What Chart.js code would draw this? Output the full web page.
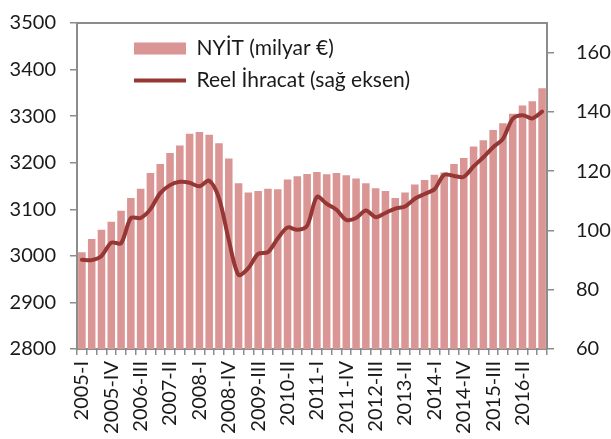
<!DOCTYPE html>
<html>
<head>
<meta charset="utf-8">
<script src="https://cdn.jsdelivr.net/npm/chart.js@4/dist/chart.umd.min.js"></script>
<style>
    body { margin: 0; background: #fff; }
    canvas { display: block; }
</style>
</head>
<body>
<canvas id="chart" width="611" height="439"></canvas>
<script>
// Data
const quarters = [
    '2005-I', '2005-II', '2005-III', '2005-IV',
    '2006-I', '2006-II', '2006-III', '2006-IV',
    '2007-I', '2007-II', '2007-III', '2007-IV',
    '2008-I', '2008-II', '2008-III', '2008-IV',
    '2009-I', '2009-II', '2009-III', '2009-IV',
    '2010-I', '2010-II', '2010-III', '2010-IV',
    '2011-I', '2011-II', '2011-III', '2011-IV',
    '2012-I', '2012-II', '2012-III', '2012-IV',
    '2013-I', '2013-II', '2013-III', '2013-IV',
    '2014-I', '2014-II', '2014-III', '2014-IV',
    '2015-I', '2015-II', '2015-III', '2015-IV',
    '2016-I', '2016-II', '2016-III', '2016-IV'
];

// NYİT, milyar € (left axis)
const nyit = [
    3008, 3036, 3056, 3073, 3097, 3124, 3144, 3178, 3197, 3221,
    3237, 3262, 3266, 3260, 3242, 3209, 3156, 3136, 3139, 3144,
    3143, 3164, 3171, 3176, 3180, 3175, 3178, 3173, 3166, 3156,
    3145, 3139, 3124, 3136, 3153, 3163, 3174, 3179, 3197, 3210,
    3235, 3248, 3270, 3285, 3305, 3323, 3332, 3360
];

// Reel ihracat (right axis)
const reelIhracat = [
    90.1, 90.0, 91.4, 95.9, 95.7, 104.2, 104.2, 107.2, 112.6, 115.3,
    116.4, 116.1, 114.9, 116.8, 110.9, 96.8, 85.0, 87.3, 92.1, 92.7,
    97.3, 101.0, 100.2, 101.6, 111.3, 109.0, 107.0, 103.6, 104.2, 106.7,
    104.5, 105.9, 107.4, 108.1, 110.7, 112.3, 113.9, 118.8, 118.4, 118.1,
    121.6, 124.7, 128.1, 130.9, 137.7, 138.9, 137.8, 140.1
];

const leftTicks = [2800, 2900, 3000, 3100, 3200, 3300, 3400, 3500];
const rightTicks = [60, 80, 100, 120, 140, 160];

// Styling
const axisGrey = '#8c8c8c';
const textColor = '#1a1a1a';
const baseFont = { family: 'Lato', size: 20 };

Chart.defaults.font.family = 'Lato';
Chart.defaults.color = textColor;

// move the legend box right and down inside the plot
const legendShift = {
    id: 'legendShift',
    afterLayout(chart) {
        chart.legend.left += 46;
        chart.legend.right += 46;
        chart.legend.top += 27;
        chart.legend.bottom += 27;
    }
};

new Chart(document.getElementById('chart'), {
    type: 'bar',
    data: {
        labels: quarters,
        datasets: [
            {
                label: 'NYİT (milyar €)',
                data: nyit,
                yAxisID: 'y',
                backgroundColor: '#d99694',
                borderWidth: 0,
                barPercentage: 0.77,
                categoryPercentage: 1,
                pointStyle: 'rect',
                order: 2
            },
            {
                type: 'line',
                label: 'Reel İhracat (sağ eksen)',
                data: reelIhracat,
                yAxisID: 'y1',
                borderColor: '#953735',
                backgroundColor: '#953735',
                borderWidth: 4,
                borderCapStyle: 'round',
                borderJoinStyle: 'round',
                tension: 0.3,
                pointRadius: 0,
                pointStyle: 'line',
                order: 1
            }
        ]
    },
    options: {
        responsive: false,
        animation: false,
        layout: { padding: { top: 23, left: 0, right: 0, bottom: 0 } },
        plugins: {
            tooltip: { enabled: false },
            legend: {
                position: 'chartArea',
                align: 'start',
                labels: {
                    usePointStyle: true,
                    pointStyleWidth: 52,
                    boxHeight: 12,
                    padding: 11,
                    color: textColor,
                    font: { family: 'Lato', size: 21 },
                    sort: (a, b) => a.datasetIndex - b.datasetIndex
                }
            }
        },
        scales: {
            x: {
                position: 'bottom',
                grid: {
                    drawOnChartArea: false,
                    color: axisGrey,
                    lineWidth: 1.5,
                    tickLength: 6
                },
                border: { color: axisGrey, width: 2 },
                ticks: {
                    autoSkip: false,
                    minRotation: 90,
                    maxRotation: 90,
                    padding: 6,
                    color: textColor,
                    font: { family: 'Lato', size: 20 },
                    callback: (value, index) => index % 3 === 0 ? quarters[index] : ''
                },
                afterFit: (scale) => { scale.height = 90; }
            },
            xTop: {
                type: 'category',
                position: 'top',
                grid: { display: false },
                ticks: { display: false },
                border: { color: axisGrey, width: 2 },
                afterFit: (scale) => { scale.height = 0; }
            },
            y: {
                position: 'left',
                min: 2800,
                max: 3500,
                grid: {
                    drawOnChartArea: false,
                    color: axisGrey,
                    lineWidth: 1.5,
                    tickLength: 7
                },
                border: { color: axisGrey, width: 2 },
                ticks: {
                    stepSize: 100,
                    padding: 14,
                    color: textColor,
                    font: baseFont,
                    callback: (value) => String(value)
                },
                afterBuildTicks: (axis) => {
                    axis.ticks = leftTicks.map(v => ({ value: v }));
                },
                afterFit: (scale) => {
                    scale.width = 77;
                    scale.paddingTop = 0;
                    scale.paddingBottom = 0;
                }
            },
            y1: {
                position: 'right',
                min: 60,
                max: 170,
                grid: {
                    drawOnChartArea: false,
                    color: axisGrey,
                    lineWidth: 1.5,
                    tickLength: 7
                },
                border: { color: axisGrey, width: 2 },
                ticks: {
                    stepSize: 20,
                    padding: 22,
                    color: textColor,
                    font: baseFont,
                    callback: (value) => String(value)
                },
                afterBuildTicks: (axis) => {
                    axis.ticks = rightTicks.map(v => ({ value: v }));
                },
                afterFit: (scale) => {
                    scale.width = 64;
                    scale.paddingTop = 0;
                    scale.paddingBottom = 0;
                }
            }
        }
    },
    plugins: [legendShift]
});
</script>
</body>
</html>
